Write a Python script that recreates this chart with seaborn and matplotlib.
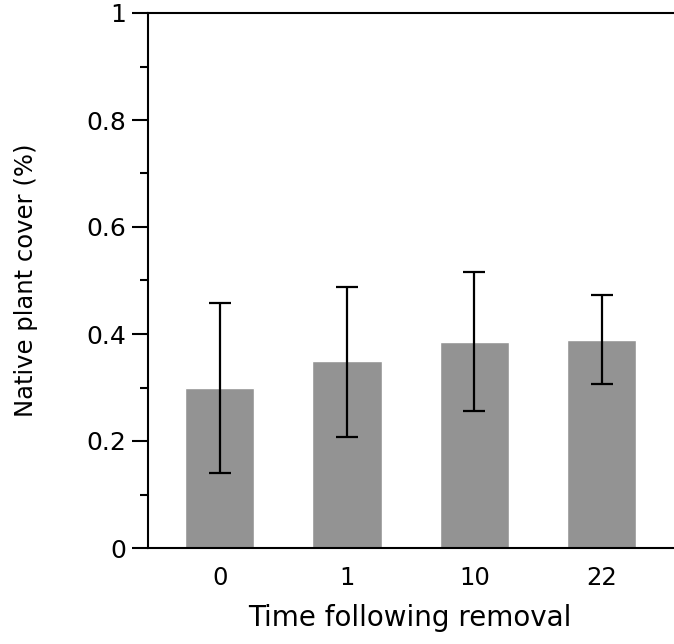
import matplotlib
matplotlib.use("Agg")
import matplotlib.pyplot as plt
import numpy as np
import pandas as pd
import seaborn as sns
from matplotlib.ticker import MultipleLocator

# Данные с картинки
time_labels = ["0", "1", "10", "22"]
cover_mean = [0.30, 0.35, 0.385, 0.389]
err_low = [0.14, 0.208, 0.257, 0.306]
err_high = [0.458, 0.487, 0.516, 0.472]

sns.set_style("ticks")
plt.rcParams["font.family"] = ["DejaVu Sans"]
plt.rcParams["text.color"] = "black"
plt.rcParams["axes.labelcolor"] = "black"
plt.rcParams["xtick.color"] = "black"
plt.rcParams["ytick.color"] = "black"

df = pd.DataFrame({"time": time_labels, "cover": cover_mean})

fig = plt.figure(figsize=(6.74, 6.44), dpi=100)
ax = fig.add_axes([147.5 / 674, 1 - 548 / 644, 1 - 147.5 / 674, (548 - 13) / 644])

sns.barplot(data=df, x="time", y="cover", order=time_labels, color="#939393",
            saturation=1, width=0.545, errorbar=None, ax=ax)

mean = np.array(cover_mean)
yerr = np.vstack([mean - np.array(err_low), np.array(err_high) - mean])
ax.errorbar(np.arange(len(time_labels)), mean, yerr=yerr, fmt="none",
            ecolor="black", elinewidth=1.6, capsize=8, capthick=1.6)

ax.set_xlim(-0.567, 3.567)
ax.set_ylim(0, 1)
ax.yaxis.set_minor_locator(MultipleLocator(0.1))
ax.set_yticks([0, 0.2, 0.4, 0.6, 0.8, 1.0])
ax.set_yticklabels(["0", "0.2", "0.4", "0.6", "0.8", "1"])

ax.spines["right"].set_visible(False)
for side in ["left", "top", "bottom"]:
    ax.spines[side].set_linewidth(1.5)
    ax.spines[side].set_color("black")

ax.tick_params(axis="y", which="major", length=11.5, width=1.5, labelsize=18, pad=4)
ax.tick_params(axis="y", which="minor", length=6, width=1.5)
ax.tick_params(axis="x", length=0, labelsize=17.5, pad=13)

ax.set_xlabel("Time following removal", fontsize=20)
ax.set_ylabel("Native plant cover (%)", fontsize=17.5)
ax.xaxis.set_label_coords(0.4976, -0.1047)
ax.yaxis.set_label_coords(-0.208, 0.5)

fig.savefig("out.png", dpi=100)
